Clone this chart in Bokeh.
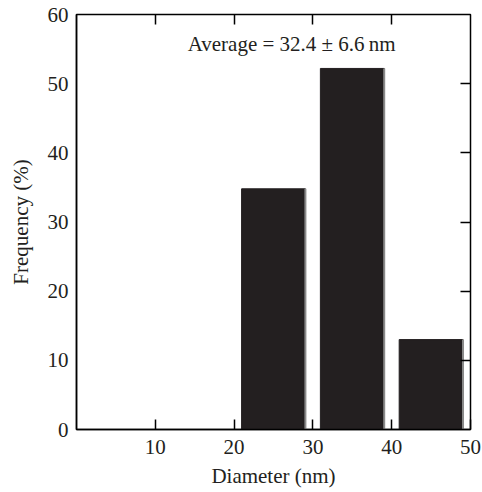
from bokeh.plotting import figure
from bokeh.models import LinearAxis, FixedTicker, Label, Range1d
from bokeh.embed import file_html
from bokeh.resources import INLINE

# data
bin_centers = [25, 35, 45]
frequency = [34.8, 52.2, 13.0]
bar_width = 8.1
x_ticks = [10, 20, 30, 40, 50]
y_ticks = [0, 10, 20, 30, 40, 50, 60]
annotation = "Average = 32.4 \u00b1 6.6\u2009nm"
x_label = "Diameter (nm)"
y_label = "Frequency (%)"

FONT = "Liberation Serif"
TXT = "#231f20"

p = figure(width=482, height=492, output_backend="svg", toolbar_location=None,
           x_range=Range1d(0, 50), y_range=Range1d(0, 60),
           min_border_left=76, min_border_right=12, min_border_top=14, min_border_bottom=63)
p.grid.visible = False
p.outline_line_color = "black"
p.outline_line_width = 1.5
p.background_fill_color = "white"
p.border_fill_color = "white"

p.vbar(x=bin_centers, top=frequency, width=bar_width, bottom=0,
       fill_color="#231f20", line_color="#231f20", line_width=1)
right_edges = [c + bar_width / 2 for c in bin_centers]
p.segment(x0=right_edges, x1=right_edges, y0=[0] * len(frequency), y1=frequency,
          line_color="#8a8a8a", line_width=2)

for ax in [p.xaxis[0], p.yaxis[0]]:
    ax.axis_line_color = "black"
    ax.axis_line_width = 1.5
    ax.major_tick_line_color = "black"
    ax.major_tick_line_width = 1.5
    ax.major_tick_out = 0
    ax.minor_tick_line_color = None
    ax.major_label_text_font = FONT
    ax.major_label_text_font_size = "21px"
    ax.major_label_text_color = TXT
    ax.axis_label_text_font = FONT
    ax.axis_label_text_font_size = "21px"
    ax.axis_label_text_font_style = "normal"
    ax.axis_label_text_color = TXT

p.xaxis[0].ticker = FixedTicker(ticks=x_ticks)
p.xaxis[0].major_tick_in = 10
p.xaxis[0].major_label_standoff = 10
p.xaxis[0].axis_label = x_label
p.xaxis[0].axis_label_standoff = 7
p.yaxis[0].ticker = FixedTicker(ticks=y_ticks)
p.yaxis[0].major_tick_in = 0
p.yaxis[0].major_label_standoff = 8
p.yaxis[0].axis_label = y_label
p.yaxis[0].axis_label_standoff = 12

def tick_only_axis(ticks):
    return LinearAxis(ticker=FixedTicker(ticks=ticks), major_label_text_font_size="1px",
                      major_label_text_alpha=0, major_label_standoff=0,
                      major_tick_in=10, major_tick_out=0,
                      minor_tick_line_color=None, axis_line_color=None,
                      major_tick_line_color="black", major_tick_line_width=1.5)

p.add_layout(tick_only_axis(x_ticks[:-1]), "above")
p.add_layout(tick_only_axis(y_ticks[1:-1]), "right")

p.add_layout(Label(x=27.3, y=55.7, text=annotation, text_align="center", text_baseline="middle",
                   text_font=FONT, text_font_size="21px", text_color=TXT))
p.add_layout(Label(x=-80, y=-62, x_units="screen", y_units="screen", text="0x",
                   text_font=FONT, text_font_size="19px", text_color=TXT,
                   text_baseline="bottom", level="overlay"))

open("out.html", "w").write(file_html(p, INLINE))
